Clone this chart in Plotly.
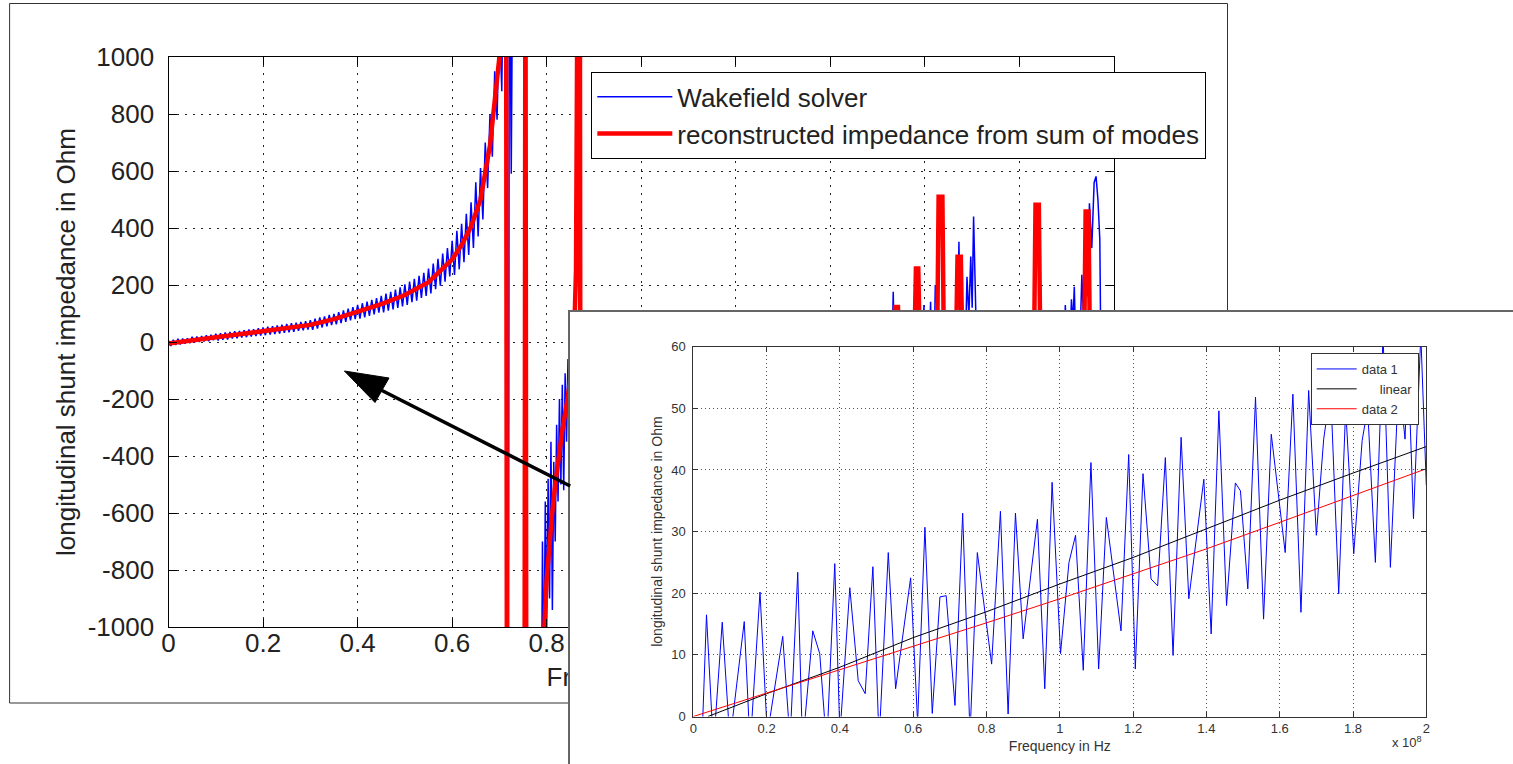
import numpy as np
import plotly.graph_objects as go

W, H = 1513, 764
FONT = "Liberation Sans, Arial, Helvetica, sans-serif"

# ---------------- wide-band view: frequency axis 0..2 (x 10^9 Hz) ----------------
# wakefield solver output below the first resonance, uniform sweep step
solver_step = 0.005
solver_low_z = [
    5, -14, 8, -10, 11, -9, 12, -6, 13, -4, 18, -2, 19, 0, 21, 2, 24, 3, 25, 6,
    29, 5, 31, 8, 33, 9, 35, 12, 38, 13, 39, 16, 41, 17, 44, 19, 45, 21, 48, 23,
    51, 24, 54, 26, 55, 28, 58, 30, 61, 32, 63, 34, 66, 36, 68, 39, 70, 41, 73, 44,
    77, 43, 82, 47, 86, 51, 90, 55, 95, 59, 99, 62, 105, 66, 111, 71, 117, 76, 122, 80,
    130, 82, 136, 86, 142, 92, 148, 97, 154, 103, 162, 104, 170, 110, 176, 114, 184, 120, 192, 125,
    202, 130, 212, 140, 222, 145, 232, 155, 243, 162, 258, 170, 275, 185, 292, 198, 310, 212, 330, 230,
    355, 235, 390, 255, 415, 280, 450, 305, 490, 330, 560, 370, 610, 430, 700, 540, 800, 650, 950, 780,
    1150,
]
# wakefield solver output from the first pole upwards
solver_high_f = [
    0.705, 0.710, 0.714, 0.716, 0.719, 0.721, 0.725, 0.729, 0.754, 0.756, 0.788,
    0.791, 0.794, 0.797, 0.800, 0.803, 0.806, 0.809, 0.812, 0.815, 0.818, 0.821,
    0.824, 0.827, 0.830, 0.833, 0.836, 0.839, 0.842, 0.845, 0.848, 0.851, 0.854,
    0.857, 0.860, 0.870, 1.000, 1.200, 1.428, 1.430, 1.432, 1.531, 1.533, 1.535,
    1.596, 1.598, 1.600, 1.610, 1.612, 1.614, 1.620, 1.622, 1.625, 1.628, 1.631,
    1.664, 1.667, 1.670, 1.672, 1.675, 1.686, 1.689, 1.693, 1.697, 1.700, 1.703,
    1.706, 1.708, 1.711, 1.895, 1.897, 1.900, 1.907, 1.910, 1.913, 1.916, 1.919,
    1.928, 1.932, 1.936, 1.940, 1.944, 1.948, 1.953, 1.958, 1.962, 1.966, 1.970,
    1.972, 2.000,
]
solver_high_z = [
    880, 1600, 1600, -1600, -1600, 1600, 590, 1600, 1600, -1600, -1600,
    -700, -1200, -560, -1000, -480, -900, -350, -940, -420, -700, -290,
    -560, -200, -500, -150, -520, -110, -350, -60, -250, 20, -150,
    80, -50, 0, 0, 0, 0, 110, 0, 0, 176, 0,
    0, 130, 0, 0, 141, 0, 0, 200, 120, 60, 0,
    0, 250, 120, 352, 0, 0, 229, 90, 300, 120, 440,
    200, 80, 0, 0, 130, 0, 0, 150, 60, 194, 0,
    0, 236, 60, 300, 160, 487, 330, 560, 581, 500, 359,
    0, 0,
]

# impedance rebuilt from the sum of the fitted modes
modes_f = [
    0.00, 0.05, 0.10, 0.15, 0.20, 0.25, 0.30, 0.35, 0.40, 0.45, 0.50, 0.55,
    0.60, 0.62, 0.64, 0.66, 0.68, 0.69, 0.70, 0.705, 0.712, 0.714, 0.716,
    0.753, 0.755, 0.757, 0.788, 0.795, 0.800, 0.805, 0.811, 0.818, 0.825,
    0.833, 0.843, 0.850, 0.855, 0.859, 0.862, 0.864, 0.866, 0.870, 0.872,
    0.900, 1.000, 1.200, 1.400, 1.534, 1.537, 1.543, 1.546, 1.578, 1.581,
    1.586, 1.589, 1.626, 1.629, 1.637, 1.640, 1.666, 1.669, 1.676, 1.679,
    1.831, 1.834, 1.841, 1.844, 1.937, 1.940, 1.946, 1.949, 2.000,
]
modes_z = [
    -5, 7, 17, 27, 37, 48, 60, 80, 105, 133, 165, 210,
    290, 340, 405, 500, 690, 830, 1000, 1250, 1600, 1600, -1600,
    -1600, 1600, -1600, -1600, -1000, -830, -720, -610, -500, -410,
    -310, -210, -130, -40, 80, 250, 640, 1600, 1600, -1600,
    -400, -200, -100, -40, 0, 123, 123, 0, 0, 258,
    258, 0, 0, 510, 510, 0, 0, 299, 299, 0,
    0, 482, 482, 0, 0, 458, 458, 0, 0,
]

# ---------------- zoomed view: frequency axis 0..2 (x 10^8 Hz) ----------------
zoom_f = [
    0.000, 0.023, 0.036, 0.055, 0.079, 0.100, 0.139, 0.155, 0.182, 0.202,
    0.244, 0.264, 0.285, 0.298, 0.326, 0.345, 0.364, 0.386, 0.400, 0.427,
    0.450, 0.469, 0.490, 0.507, 0.532, 0.552, 0.593, 0.612, 0.632, 0.652,
    0.673, 0.690, 0.714, 0.735, 0.755, 0.775, 0.814, 0.838, 0.859, 0.879,
    0.900, 0.939, 0.959, 0.979, 1.002, 1.025, 1.043, 1.064, 1.085, 1.106,
    1.127, 1.167, 1.188, 1.206, 1.227, 1.249, 1.267, 1.288, 1.309, 1.331,
    1.352, 1.393, 1.413, 1.434, 1.455, 1.479, 1.493, 1.513, 1.534, 1.556,
    1.577, 1.615, 1.636, 1.658, 1.679, 1.700, 1.720, 1.739, 1.761, 1.780,
    1.802, 1.825, 1.840, 1.861, 1.882, 1.902, 1.925, 1.942, 1.950, 1.965,
    1.985, 2.000,
]
zoom_z = [
    0.0, -5.0, 16.5, -5.0, 15.3, -4.0, 15.4, -5.0, 20.2, -3.0,
    13.0, -4.0, 23.4, -5.0, 13.9, 10.2, -5.0, 24.8, -3.0, 20.9,
    5.8, 3.7, 24.3, -4.0, 26.6, 4.5, 22.5, -1.0, 30.7, 0.5,
    19.4, 19.6, 1.8, 33.0, -3.0, 26.6, 8.5, 33.3, 0.4, 33.0,
    12.6, 32.0, 4.5, 38.0, 10.2, 25.0, 29.4, 7.5, 41.2, 7.7,
    32.3, 13.9, 42.5, 7.7, 39.4, 22.3, 21.2, 42.0, 9.9, 45.3,
    19.1, 38.5, 13.4, 49.6, 18.0, 37.9, 36.6, 20.7, 51.8, 15.8,
    45.8, 26.6, 52.3, 16.9, 52.9, 29.4, 45.0, 53.0, 19.9, 50.0,
    26.4, 44.8, 50.0, 25.0, 62.0, 24.2, 55.0, 45.0, 58.0, 32.1,
    62.0, 37.5,
]
fit_f = [0.04, 0.2, 0.4, 0.6, 0.8, 1.0, 1.2, 1.4, 1.6, 1.8, 2.0]
fit_z = [0.0, 3.7, 8.0, 12.8, 17.0, 21.5, 25.8, 30.4, 35.1, 39.5, 43.8]
recon_f = [0.0, 0.2, 0.4, 0.6, 0.8, 1.0, 1.2, 1.4, 1.6, 1.8, 2.0]
recon_z = [0.0, 3.8, 7.5, 11.4, 15.2, 19.1, 23.1, 27.2, 31.5, 35.9, 40.2]

wide_yticks = [-1000, -800, -600, -400, -200, 0, 200, 400, 600, 800, 1000]
wide_ytext = ["-1000", "-800", "-600", "-400", "-200", "0", "200", "400", "600", "800", "1000"]

solver_f = list(np.round(np.arange(len(solver_low_z)) * solver_step, 4)) + solver_high_f
solver_z = solver_low_z + solver_high_z

BLUE, RED = "rgb(0,0,255)", "rgb(255,0,0)"

fig = go.Figure()

# wide-band panel (x / y)
fig.add_trace(go.Scatter(x=solver_f, y=solver_z, mode="lines", name="Wakefield solver",
                         line=dict(color=BLUE, width=1.5), xaxis="x", yaxis="y",
                         legend="legend", hoverinfo="skip"))
fig.add_trace(go.Scatter(x=modes_f, y=modes_z, mode="lines",
                         name="reconstructed impedance from sum of modes",
                         line=dict(color=RED, width=4.5), xaxis="x", yaxis="y",
                         legend="legend", hoverinfo="skip"))

# strip under the wide-band panel carrying its frequency label (x2 / y2),
# so the zoomed panel drawn later can sit on top of it
fig.add_trace(go.Scatter(x=[1.0], y=[0.5], mode="text", text=["Frequency in Hz"],
                         textfont=dict(size=26, family=FONT, color="#222"),
                         showlegend=False, hoverinfo="skip", xaxis="x2", yaxis="y2"))

# backing sheet of the zoomed panel (x3 / y3)
fig.add_trace(go.Scatter(x=[None], y=[None], mode="lines", showlegend=False,
                         hoverinfo="skip", xaxis="x3", yaxis="y3"))

# zoomed panel (x4 / y4)
fig.add_trace(go.Scatter(x=zoom_f, y=zoom_z, mode="lines", name="data 1",
                         line=dict(color=BLUE, width=1), xaxis="x4", yaxis="y4",
                         legend="legend2", hoverinfo="skip"))
fig.add_trace(go.Scatter(x=fit_f, y=fit_z, mode="lines",
                         name="\u00a0\u00a0\u00a0\u00a0\u00a0linear",
                         line=dict(color="black", width=1), xaxis="x4", yaxis="y4",
                         legend="legend2", hoverinfo="skip"))
fig.add_trace(go.Scatter(x=recon_f, y=recon_z, mode="lines", name="data 2",
                         line=dict(color=RED, width=1), xaxis="x4", yaxis="y4",
                         legend="legend2", hoverinfo="skip"))

big_axis = dict(showline=True, linecolor="black", linewidth=1.3, mirror="allticks",
                ticks="inside", ticklen=8, tickcolor="black", tickwidth=1.3,
                showgrid=True, gridcolor="#222", gridwidth=1.2, griddash="2px,6px",
                zeroline=False, automargin=False,
                tickfont=dict(size=26, family=FONT, color="#222"))
small_axis = dict(showline=True, linecolor="#333", linewidth=1, mirror="allticks",
                  ticks="inside", ticklen=5, tickcolor="#333", tickwidth=1,
                  showgrid=True, gridcolor="#555", gridwidth=1, griddash="1px,3px",
                  zeroline=False, automargin=False,
                  tickfont=dict(size=13, family=FONT, color="#333"))
hidden_axis = dict(visible=False, showgrid=False, zeroline=False, automargin=False)
sheet_axis = dict(showline=True, linecolor="#666", linewidth=1.5, showgrid=False,
                  zeroline=False, showticklabels=False, ticks="", range=[0, 1],
                  automargin=False)

fig.update_layout(
    width=W, height=H, margin=dict(l=0, r=0, t=0, b=0, autoexpand=False),
    paper_bgcolor="white", plot_bgcolor="white",
    font=dict(family=FONT, color="#222"),
    xaxis=dict(big_axis, domain=[168.5 / W, 1114 / W], range=[0, 2], tick0=0, dtick=0.2,
               anchor="y", ticklabelstandoff=-7),
    yaxis=dict(big_axis, domain=[1 - 627 / H, 1 - 57 / H], range=[-1000, 1000],
               tickvals=wide_yticks, ticktext=wide_ytext, anchor="x", ticklabelstandoff=8,
               title=dict(text="longitudinal shunt impedance in Ohm",
                          font=dict(size=26, family=FONT, color="#222"), standoff=4)),
    xaxis2=dict(hidden_axis, domain=[168.5 / W, 1114 / W], range=[0, 2], anchor="y2"),
    yaxis2=dict(hidden_axis, domain=[1 - 698 / H, 1 - 660 / H], range=[0, 1], anchor="x2"),
    xaxis3=dict(sheet_axis, domain=[570 / W, 1.0], anchor="y3", side="top"),
    yaxis3=dict(sheet_axis, domain=[0, 1 - 312 / H], anchor="x3", side="left"),
    xaxis4=dict(small_axis, domain=[693.3 / W, 1426.3 / W], range=[0, 2], tick0=0, dtick=0.2,
                anchor="y4", ticklabelstandoff=0,
                title=dict(text="Frequency in Hz", font=dict(size=14, family=FONT, color="#333"),
                           standoff=6)),
    yaxis4=dict(small_axis, domain=[1 - 716.5 / H, 1 - 346.7 / H], range=[0, 60], tick0=0,
                dtick=10, anchor="x4", ticklabelstandoff=4,
                title=dict(text="longitudinal shunt impedance in Ohm",
                           font=dict(size=14, family=FONT, color="#333"), standoff=5)),
    legend=dict(x=591 / W, y=1 - 72 / H, xanchor="left", yanchor="top", bgcolor="white",
                bordercolor="black", borderwidth=1.3, itemwidth=75,
                font=dict(size=26, family=FONT, color="#222")),
    legend2=dict(x=1310.7 / W, y=1 - 353 / H, xanchor="left", yanchor="top", bgcolor="white",
                 bordercolor="#333", borderwidth=1, itemwidth=40,
                 font=dict(size=13, family=FONT, color="#333")),
    showlegend=True,
)

# exponent of the zoomed frequency axis
fig.add_annotation(x=1424 / W, y=1 - 752 / H, xref="paper", yref="paper", showarrow=False,
                   xanchor="right", text="x 10<sup>8</sup>",
                   font=dict(size=13, family=FONT, color="#333"))

# outline of the wide-band figure window
fig.add_shape(type="rect", xref="paper", yref="paper", layer="below",
              x0=9.6 / W, y0=1 - 703 / H, x1=1227.5 / W, y1=1 - 3.5 / H,
              line=dict(color="#333", width=1))


def P(px, py):
    return px / W, 1 - py / H


# arrow pointing from the zoomed panel to the low-frequency region
tail, neck = P(570.2, 486.0), P(379.0, 389.0)
fig.add_shape(type="line", xref="paper", yref="paper", x0=tail[0], y0=tail[1],
              x1=neck[0], y1=neck[1], line=dict(color="black", width=3.6))
tip, c1, c2 = P(344.4, 371.0), P(389.0, 378.0), P(375.0, 402.5)
fig.add_shape(type="path", xref="paper", yref="paper",
              path=f"M {tip[0]},{tip[1]} L {c1[0]},{c1[1]} L {c2[0]},{c2[1]} Z",
              fillcolor="black", line=dict(color="black", width=1))

fig.write_html("out.html")
